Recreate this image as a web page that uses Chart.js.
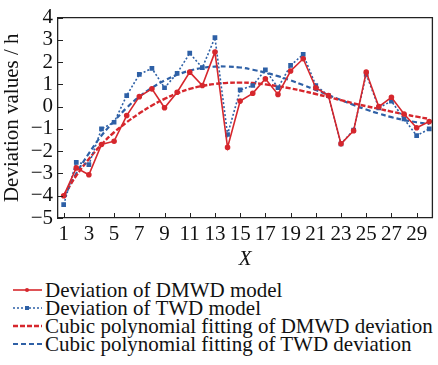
<!DOCTYPE html>
<html>
<head>
<meta charset="utf-8">
<script src="https://cdn.jsdelivr.net/npm/chart.js@4/dist/chart.umd.min.js"></script>
<style>
  html, body { margin: 0; padding: 0; background: #fff; }
  #wrap { position: relative; width: 438px; height: 365px; }
  #chartBox { position: absolute; left: 0; top: 0; width: 438px; height: 272px; }
  #legend { position: absolute; left: 12px; top: 281px; font-family: 'Liberation Serif', serif; font-size: 21px; color: #111; }
  #legend div { height: 18px; line-height: 18px; white-space: nowrap; display: flex; align-items: center; }
  #legend svg { margin-right: 2px; }
</style>
</head>
<body>
<div id="wrap">
  <div id="chartBox"><canvas id="devChart" width="438" height="272"></canvas></div>
  <div id="legend"></div>
</div>
<script>
const xValues = [1, 2, 3, 4, 5, 6, 7, 8, 9, 10, 11, 12, 13, 14, 15, 16, 17, 18, 19, 20, 21, 22, 23, 24, 25, 26, 27, 28, 29, 30];
const dmwdDev = [-4.0, -2.75, -3.06, -1.7, -1.55, -0.4, 0.45, 0.8, -0.05, 0.65, 1.55, 0.95, 2.45, -1.83, 0.25, 0.6, 1.25, 0.55, 1.6, 2.15, 0.85, 0.5, -1.67, -1.08, 1.55, 0.0, 0.42, -0.33, -0.95, -0.67];
const twdDev = [-4.4, -2.5, -2.6, -1.0, -0.7, 0.5, 1.45, 1.72, 0.85, 1.5, 2.4, 1.75, 3.1, -1.25, 0.75, 0.95, 1.65, 0.85, 1.85, 2.35, 0.95, 0.5, -1.67, -1.05, 1.45, -0.05, 0.25, -0.55, -1.3, -1.0];
const dmwdFit = [-4.0, -3.1, -2.35, -1.7, -1.15, -0.7, -0.3, 0.05, 0.35, 0.6, 0.8, 0.93, 1.02, 1.07, 1.08, 1.06, 1.0, 0.92, 0.82, 0.7, 0.57, 0.43, 0.29, 0.15, 0.02, -0.1, -0.22, -0.34, -0.45, -0.55];
const twdFit = [-4.1, -3.0, -2.1, -1.3, -0.65, -0.05, 0.45, 0.85, 1.18, 1.43, 1.62, 1.74, 1.8, 1.8, 1.76, 1.66, 1.53, 1.37, 1.18, 0.97, 0.75, 0.52, 0.3, 0.08, -0.13, -0.31, -0.47, -0.6, -0.7, -0.77];
const xTicks = [1, 3, 5, 7, 9, 11, 13, 15, 17, 19, 21, 23, 25, 27, 29];
const yTicks = [-5, -4, -3, -2, -1, 0, 1, 2, 3, 4];

const red = 'rgb(214, 39, 45)';
const blue = 'rgb(46, 96, 166)';
const serif = "'Liberation Serif', 'Times New Roman', serif";

const toPoints = (ys) => ys.map((y, i) => ({ x: xValues[i], y }));

// top/right edges of the box and small inward ticks
const frameTicks = {
    id: 'frameTicks',
    afterDatasetsDraw(chart) {
        const { ctx, chartArea: a, scales } = chart;
        ctx.save();
        ctx.strokeStyle = '#222';
        ctx.lineWidth = 1.3;
        ctx.beginPath();
        ctx.moveTo(a.left, a.top);
        ctx.lineTo(a.right, a.top);
        ctx.lineTo(a.right, a.bottom);
        ctx.stroke();
        ctx.lineWidth = 1;
        ctx.beginPath();
        xTicks.forEach(v => {
            const px = Math.round(scales.x.getPixelForValue(v)) + 0.5;
            ctx.moveTo(px, a.bottom);
            ctx.lineTo(px, a.bottom - 5);
        });
        yTicks.forEach(v => {
            const py = Math.round(scales.y.getPixelForValue(v)) + 0.5;
            ctx.moveTo(a.left, py);
            ctx.lineTo(a.left + 5, py);
        });
        ctx.stroke();
        ctx.restore();
    }
};

const datasets = [
    { label: 'Deviation of DMWD model', data: toPoints(dmwdDev), borderColor: red, backgroundColor: red,
      borderWidth: 1.6, pointRadius: 2, pointStyle: 'circle', order: 1 },
    { label: 'Deviation of TWD model', data: toPoints(twdDev), borderColor: blue, backgroundColor: blue,
      borderWidth: 1.6, borderDash: [2, 2], pointRadius: 2.2, pointStyle: 'rect', order: 2 },
    { label: 'Cubic polynomial fitting of DMWD deviation', data: toPoints(dmwdFit), borderColor: red,
      borderWidth: 2.4, borderDash: [5, 2], pointRadius: 0, tension: 0.4, order: 3 },
    { label: 'Cubic polynomial fitting of TWD deviation', data: toPoints(twdFit), borderColor: blue,
      borderWidth: 2.2, borderDash: [5, 3], pointRadius: 0, tension: 0.4, order: 4 }
];

new Chart(document.getElementById('devChart'), {
    type: 'line',
    data: { datasets },
    options: {
        responsive: false,
        animation: false,
        layout: { padding: { left: 0, right: 4, top: 17, bottom: 0 } },
        plugins: { legend: { display: false }, tooltip: { enabled: false } },
        scales: {
            x: {
                type: 'linear', min: 0.55, max: 30.25,
                afterBuildTicks: (s) => { s.ticks = xTicks.map(v => ({ value: v })); },
                afterFit: (s) => { s.height = 54; },
                grid: { display: false, drawTicks: false },
                border: { display: true, color: '#222', width: 1.3 },
                ticks: { color: '#111', padding: 4, maxRotation: 0, autoSkip: false, font: { family: serif, size: 21 } },
                title: { display: true, text: 'X', color: '#111', padding: { top: -4, bottom: 0 }, font: { family: serif, size: 21, style: 'italic' } }
            },
            y: {
                min: -5, max: 4,
                afterBuildTicks: (s) => { s.ticks = yTicks.map(v => ({ value: v })); },
                afterFit: (s) => { s.width = 58; },
                grid: { display: false, drawTicks: false },
                border: { display: true, color: '#222', width: 1.3 },
                ticks: { color: '#111', padding: 5, autoSkip: false, font: { family: serif, size: 21 },
                         callback: (v) => String(v).replace('-', '\u2212') },
                title: { display: true, text: 'Deviation values / h', color: '#111', padding: { top: 0, bottom: 0 }, font: { family: serif, size: 21 } }
            }
        }
    },
    plugins: [frameTicks]
});

// legend built by hand so it sits left-aligned in stacked rows like the original
const legendEl = document.getElementById('legend');
datasets.forEach(ds => {
    const row = document.createElement('div');
    const dash = ds.borderDash ? ds.borderDash.join(' ') : 'none';
    const marker = ds.pointRadius ? (ds.pointStyle === 'rect'
        ? `<rect x="13" y="7" width="4" height="4" fill="${ds.borderColor}"/>`
        : `<circle cx="15" cy="9" r="2" fill="${ds.borderColor}"/>`) : '';
    row.innerHTML = `<svg width="31" height="18"><line x1="1" y1="9" x2="30" y2="9" stroke="${ds.borderColor}" stroke-width="${ds.borderWidth}" stroke-dasharray="${dash}"/>${marker}</svg><span>${ds.label}</span>`;
    legendEl.appendChild(row);
});
</script>
</body>
</html>
